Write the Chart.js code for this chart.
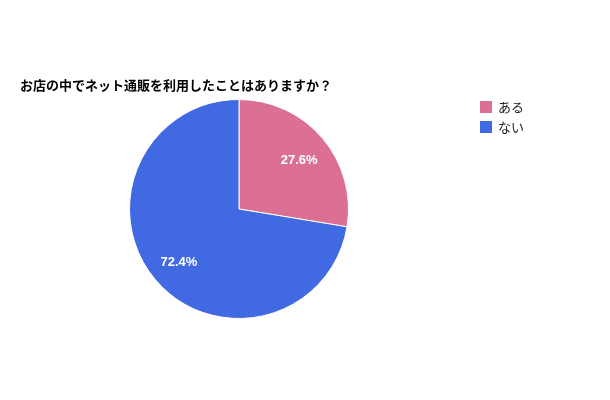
<!DOCTYPE html>
<html>
<head>
<meta charset="utf-8">
<script src="https://cdn.jsdelivr.net/npm/chart.js@4.4.0/dist/chart.umd.min.js"></script>
<style>
  html, body { margin: 0; padding: 0; background: #fff; }
  #wrap { width: 610px; height: 400px; position: relative; }
</style>
</head>
<body>
<div id="wrap"><canvas id="chartCanvas"></canvas></div>
<script>
const titulo = "お店の中でネット通販を利用したことはありますか？";
const etiquetas = ["ある", "ない"];
const valores = [27.6, 72.4];
const colores = ["#DB7093", "#4169E1"];

const fuenteJP = '"Noto Sans CJK JP", "Noto Sans", sans-serif';

// titulo, leyenda y porcentajes dibujados a mano
const extras = {
  id: "extras",
  afterDraw(chart) {
    const ctx = chart.ctx;
    ctx.save();

    ctx.fillStyle = "#000";
    ctx.textBaseline = "middle";
    ctx.textAlign = "left";
    ctx.font = "bold 13px " + fuenteJP;
    ctx.fillText(titulo, 20, 85);

    ctx.font = "13px " + fuenteJP;
    chart.data.labels.forEach((lab, i) => {
      const y = 107 + i * 20;
      ctx.fillStyle = chart.data.datasets[0].backgroundColor[i];
      ctx.fillRect(480, y - 6, 12, 12);
      ctx.fillStyle = "#222";
      ctx.fillText(lab, 498, y);
    });

    const meta = chart.getDatasetMeta(0);
    const total = valores.reduce((a, b) => a + b, 0);
    ctx.font = 'bold 13px "Liberation Sans", Arial, sans-serif';
    ctx.fillStyle = "#fff";
    ctx.textAlign = "center";
    meta.data.forEach((arc, i) => {
      const p = arc.getProps(["x", "y", "startAngle", "endAngle", "outerRadius"], true);
      const mid = (p.startAngle + p.endAngle) / 2;
      const r = p.outerRadius * 0.72;
      const pct = (valores[i] / total * 100).toFixed(1) + "%";
      ctx.fillText(pct, p.x + Math.cos(mid) * r, p.y + Math.sin(mid) * r + 2);
    });
    ctx.restore();
  }
};

new Chart(document.getElementById("chartCanvas"), {
  type: "pie",
  data: {
    labels: etiquetas,
    datasets: [{
      data: valores,
      backgroundColor: colores,
      borderColor: "#fff",
      borderWidth: 1
    }]
  },
  options: {
    responsive: true,
    maintainAspectRatio: false,
    animation: false,
    layout: { padding: { left: 129, right: 261, top: 99, bottom: 81 } },
    plugins: {
      legend: { display: false },
      title: { display: false },
      tooltip: { enabled: false }
    }
  },
  plugins: [extras]
});
</script>
</body>
</html>
